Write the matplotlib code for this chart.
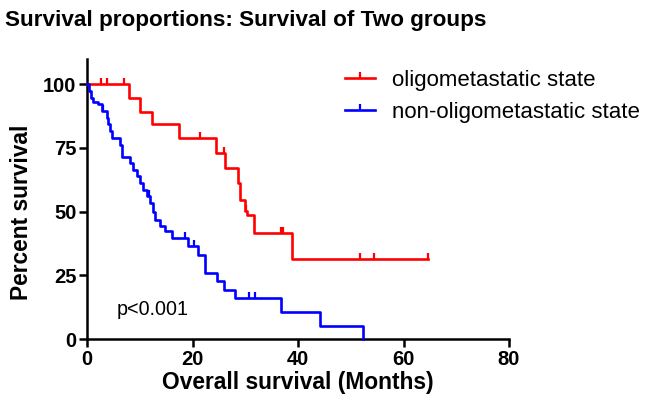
import matplotlib
matplotlib.use("Agg")
import matplotlib.pyplot as plt
import numpy as np
from matplotlib.path import Path
from matplotlib.lines import Line2D

# step points (months, percent surviving after the step)
red_t = [0, 8.0, 10.0, 12.3, 17.5, 24.5, 26.2, 28.7, 29.0, 30.0, 30.4, 31.7, 38.8, 64.6]
red_s = [100, 94.4, 89.2, 84.2, 78.8, 72.9, 67.1, 61.2, 54.7, 50.1, 48.8, 41.8, 31.4, 31.4]
red_cens = [2.6, 3.7, 7.1, 21.4, 25.9, 30.2, 36.7, 37.1, 51.7, 54.5, 64.6]

blue_t = [0, 0.4, 0.8, 1.2, 2.1, 2.8, 3.7, 4.0, 4.4, 4.7, 6.3, 6.6, 8.2, 8.8, 9.4, 10.1,
          10.7, 11.3, 12.0, 12.6, 12.9, 13.9, 14.8, 16.1, 19.2, 21.1, 22.4, 24.6, 25.9,
          28.1, 36.8, 44.2, 52.3]
blue_s = [100, 97.4, 94.7, 93.0, 92.1, 89.5, 86.8, 84.2, 81.6, 79.0, 76.3, 71.5, 69.0, 66.4,
          63.8, 61.2, 58.6, 56.0, 53.4, 50.0, 46.9, 44.3, 42.3, 39.7, 36.4, 33.2, 26.0, 23.0,
          19.5, 16.3, 10.8, 5.2, 0]
blue_cens = [3.1, 11.8, 18.6, 20.2, 30.8, 31.9]

labels = ["oligometastatic state", "non-oligometastatic state"]
colors = ["#ff0000", "#0000ff"]

W, H = 648, 408
fig = plt.figure(figsize=(W / 100, H / 100), dpi=100)
ax = fig.add_axes([87 / W, 1 - 339.3 / H, (509 - 87) / W, (339.3 - 58.5) / H])

# upward tick used for censored points
tick = Path([(0, 0), (0, 1)], [Path.MOVETO, Path.LINETO])


def level_at(t, s, x):
    i = np.searchsorted(t, x, side="right") - 1
    return np.array(s)[i]


for t, s, c, col in [(red_t, red_s, red_cens, colors[0]), (blue_t, blue_s, blue_cens, colors[1])]:
    ax.step(t, s, where="post", color=col, lw=1.9, clip_on=False, zorder=3)
    ax.plot(c, level_at(t, s, c), ls="none", marker=tick, ms=9, mew=1.6,
            color=col, clip_on=False, zorder=3)

ax.set_xlim(0, 80)
ax.set_ylim(0, 110)
ax.set_xticks([0, 20, 40, 60, 80])
ax.set_yticks([0, 25, 50, 75, 100])
for sp in ["top", "right"]:
    ax.spines[sp].set_visible(False)
for sp in ["left", "bottom"]:
    ax.spines[sp].set_linewidth(1.8)
ax.tick_params(width=1.8, length=5.5, labelsize=14.5, pad=2)
for lab in ax.get_xticklabels() + ax.get_yticklabels():
    lab.set_fontweight("bold")
    lab.set_family(["Liberation Sans", "DejaVu Sans"])

ax.text(5.7, 11.5, "p<0.001", fontsize=14.2, va="center", ha="left",
        family=["Liberation Sans", "DejaVu Sans"])

handles = [Line2D([], [], color=col, lw=1.9, marker=tick, ms=9, mew=1.6) for col in colors]
fig.legend(handles, labels, loc="upper left", bbox_to_anchor=(345 / W, 1 - 70 / H),
           frameon=False, borderpad=0, borderaxespad=0, handlelength=1.35,
           handletextpad=0.75, labelspacing=0.5,
           prop={"family": ["Liberation Sans", "DejaVu Sans"], "size": 16})

fig.text(5 / W, 1 - 26 / H, "Survival proportions: Survival of Two groups",
         fontsize=16.2, fontweight="bold", va="baseline", ha="left",
         family=["Liberation Sans", "DejaVu Sans"])
fig.text(22 / W, 1 - 212 / H, "Percent survival", rotation=90, fontsize=16.4,
         fontweight="bold", ha="center", va="center",
         family=["Liberation Sans", "DejaVu Sans"])
fig.text(298 / W, 1 - 382 / H, "Overall survival (Months)", fontsize=16.4,
         fontweight="bold", ha="center", va="center",
         family=["Liberation Sans", "DejaVu Sans"])

fig.savefig("out.png", dpi=100)
